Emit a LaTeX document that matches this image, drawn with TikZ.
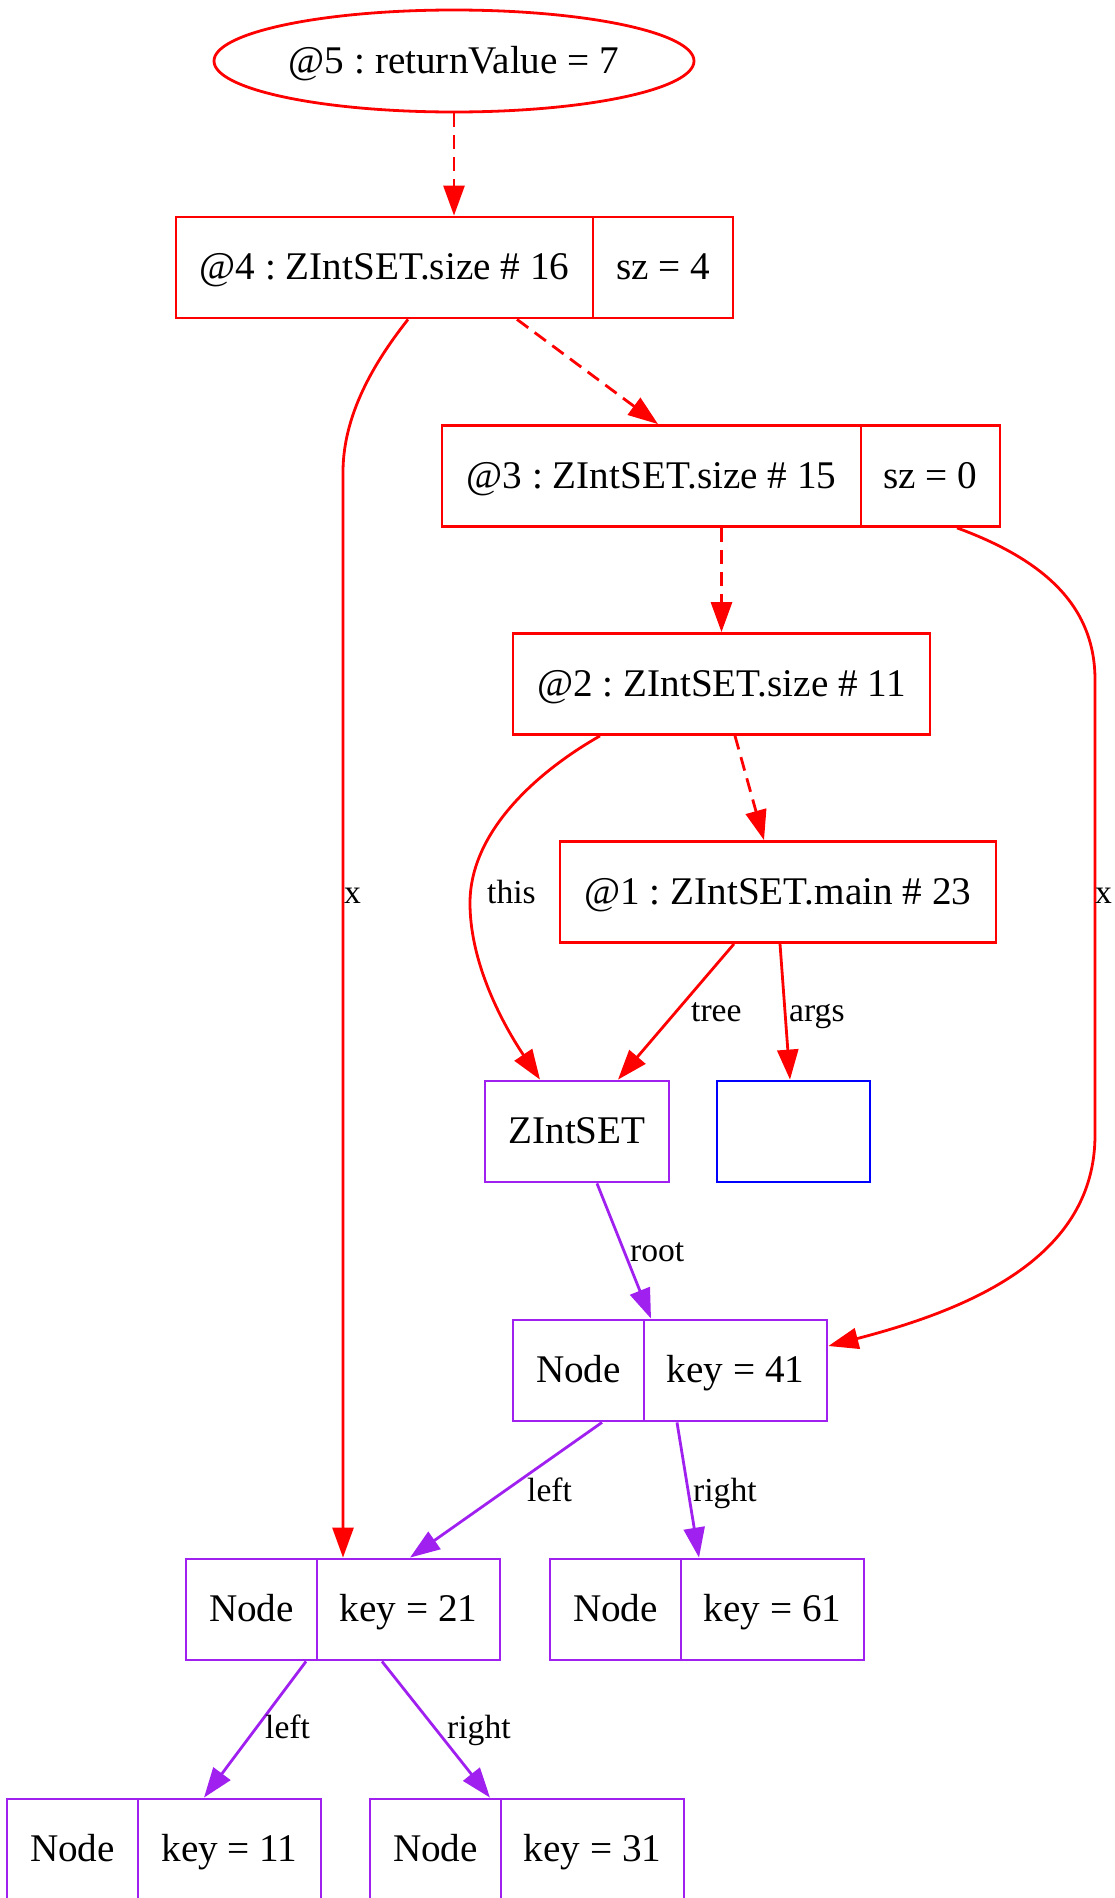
\documentclass[tikz,border=0pt]{standalone}
\usepackage{fontspec}
\setmainfont{Liberation Serif}
\usetikzlibrary{arrows.meta,shapes.geometric}
\definecolor{gvred}{RGB}{255,0,0}
\definecolor{gvpurple}{RGB}{160,32,240}
\definecolor{gvblue}{RGB}{0,0,255}
\frenchspacing
\begin{document}
\begin{tikzpicture}[x=1pt,y=-1pt,
  box/.style={draw, rectangle, inner sep=0pt, minimum height=101pt, line width=2.8pt,
    font=\fontsize{39.2}{44}\selectfont, text height=27pt, text depth=3pt},
  redbox/.style={box, draw=gvred},
  purbox/.style={box, draw=gvpurple},
  conn/.style={line width=2.8pt, -{Triangle[length=30pt,width=21pt]}},
  redconn/.style={conn, draw=gvred},
  purconn/.style={conn, draw=gvpurple},
  dashedconn/.style={redconn, dash pattern=on 14pt off 8pt},
  lbl/.style={inner sep=0pt, anchor=base west, font=\fontsize{33.6}{38}\selectfont}
]
\useasboundingbox (0,0) rectangle (1114,1898);

% nodes
\node[ellipse, draw=gvred, line width=2.8pt, inner sep=0pt, minimum width=480pt, minimum height=102pt,
  font=\fontsize{39.2}{44}\selectfont, text height=27pt, text depth=3pt] (e5) at (454,61) {@5 : returnValue = 7};

\node[redbox, minimum width=417pt] (n4a) at (384.5,267.5) {@4 : ZIntSET.size \# 16};
\node[redbox, minimum width=140pt] (n4b) at (663,267.5) {sz = 4};

\node[redbox, minimum width=419pt] (n3a) at (651.5,476) {@3 : ZIntSET.size \# 15};
\node[redbox, minimum width=139pt] (n3b) at (930.5,476) {sz = 0};

\node[redbox, minimum width=417pt] (n2) at (721.5,684) {@2 : ZIntSET.size \# 11};
\node[redbox, minimum width=436pt] (n1) at (778,892) {@1 : ZIntSET.main \# 23};

\node[purbox, minimum width=184pt] (zs) at (577,1131.5) {ZIntSET};
\node[box, draw=gvblue, minimum width=153pt] (blue) at (793.5,1131.5) {};

\node[purbox, minimum width=131pt] (n41a) at (578.5,1370.5) {Node};
\node[purbox, minimum width=183pt] (n41b) at (735.5,1370.5) {key = 41};

\node[purbox, minimum width=131pt] (n21a) at (251.5,1609.5) {Node};
\node[purbox, minimum width=183pt] (n21b) at (408.5,1609.5) {key = 21};

\node[purbox, minimum width=131pt] (n61a) at (615.5,1609.5) {Node};
\node[purbox, minimum width=183pt] (n61b) at (772.5,1609.5) {key = 61};

\node[purbox, minimum width=131pt] (n11a) at (72.5,1849.5) {Node};
\node[purbox, minimum width=183pt] (n11b) at (229.5,1849.5) {key = 11};

\node[purbox, minimum width=131pt] (n31a) at (435.5,1849.5) {Node};
\node[purbox, minimum width=183pt] (n31b) at (592.5,1849.5) {key = 31};

% connectors
\draw[dashedconn] (e5.south) -- (e5.south |- n4a.north);
\draw[dashedconn] ([xshift=132.5pt]n4a.south) -- ([xshift=6.5pt]n3a.north);
\draw[redconn] ([xshift=23.5pt]n4a.south) .. controls (380,355) and (343,410) .. (343,472)
  -- ([xshift=-65.5pt]n21b.north);
\draw[dashedconn] (n2.north |- n3a.south) -- (n2.north);
\draw[redconn] ([xshift=26.5pt]n3b.south) .. controls (1050,562) and (1095,610) .. (1095,680)
  -- (1095,1135) .. controls (1095,1255) and (975,1308) .. ([yshift=24.5pt]n41b.east);
\draw[dashedconn] ([xshift=13.5pt]n2.south) -- ([xshift=-14pt]n1.north);
\draw[redconn] ([xshift=-121.5pt]n2.south) .. controls (540,770) and (470,830) .. (470,903)
  .. controls (470,970) and (510,1035) .. ([xshift=-37pt]zs.north);
\draw[redconn] ([xshift=-44pt]n1.south) -- ([xshift=41pt]zs.north);
\draw[redconn] ([xshift=2pt]n1.south) -- ([xshift=-3.5pt]blue.north);
\draw[purconn] ([xshift=20pt]zs.south) -- ([xshift=-84.5pt]n41b.north);
\draw[purconn] ([xshift=23.5pt]n41a.south) -- ([xshift=1.5pt]n21b.north);
\draw[purconn] ([xshift=-58.5pt]n41b.south) -- ([xshift=-73.5pt]n61b.north);
\draw[purconn] ([xshift=54.5pt]n21a.south) -- ([xshift=-25.5pt]n11b.north);
\draw[purconn] ([xshift=-26.5pt]n21b.south) -- ([xshift=54.5pt]n31a.north);

% labels
\node[lbl] (lx1) at (344,903) {x};
\node[lbl] (lthis) at (487,903) {this};
\node[lbl] (lx2) at (1095,903) {x};
\node[lbl] (ltree) at (691,1021.5) {tree};
\node[lbl] (largs) at (789,1021.5) {args};
\node[lbl] (lroot) at (630,1261.5) {root};
\node[lbl] (lleft1) at (527,1501) {left};
\node[lbl] (lright1) at (693,1501) {right};
\node[lbl] (lleft2) at (265,1738) {left};
\node[lbl] (lright2) at (447,1738) {right};
\end{tikzpicture}
\end{document}
